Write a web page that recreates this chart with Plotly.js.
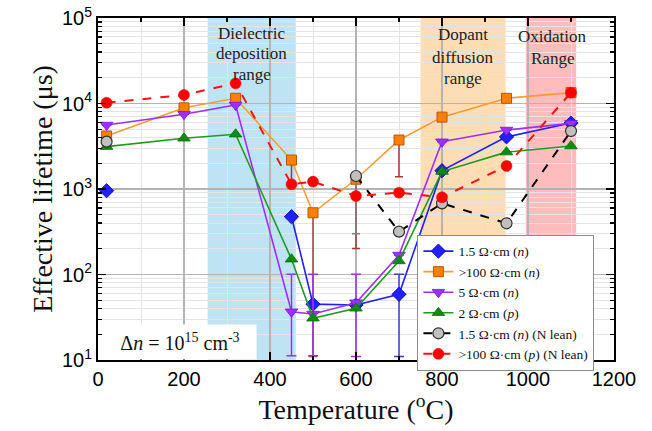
<!DOCTYPE html>
<html>
<head>
<meta charset="utf-8">
<script src="https://cdn.plot.ly/plotly-3.0.1.min.js"></script>
<style>html,body{margin:0;padding:0;background:#fff;}#chart{width:652px;height:431px;}</style>
</head>
<body>
<div id="chart"></div>
<script>
// Temperature (°C)
var temps = [20, 200, 320, 450, 500, 600, 700, 800, 950, 1100];

// Effective lifetime (µs)
var blue15n   = [955, null, null, 474, 45, 44, 58.6, 1640, 4070, 5900];
var orange100n = [4170, 8900, 11500, 2180, 527, 1300, 3740, 6930, 11500, 13400];
var purple5n  = [5600, 7500, 9600, 36.7, 34.5, 46.8, 169, 3570, 4900, 5860];
var green2p   = [3130, 3920, 4370, 151, 30.8, 40.3, 144, 1600, 2700, 3180];
var grey15nN  = [3580, null, null, null, null, 1420, 317, 680, 397, 4760];
var red100pN  = [10200, 12600, 17200, 1135, 1220, 828, 906, 800, 1860, 13400];

// Error bar bounds (lower / upper), null = none
var orangeLow  = [null, null, null, 1110, 11, 202, 1393, null, null, null];
var purpleLow  = [null, null, null, 11.2, 11.2, 11, null, null, null, null];
var purpleHigh = [null, null, null, 101, 101, 101, null, null, null, null];
var blueLow    = [null, null, null, null, null, null, 11, null, null, null];
var blueHigh   = [null, null, null, null, null, null, 101, null, null, null];
var greyLow    = [null, null, null, null, null, 300, null, null, null, null];

// Y tick labels
var yTickVals = [10, 100, 1000, 10000, 100000];
var yTickText = ['10<sup>1</sup>', '10<sup>2</sup>', '10<sup>3</sup>', '10<sup>4</sup>', '10<sup>5</sup>'];

var seriesNames = [
  '1.5 Ω·cm (<i>n</i>)',
  '>100 Ω·cm (<i>n</i>)',
  '5 Ω·cm (<i>n</i>)',
  '2 Ω·cm (<i>p</i>)',
  '1.5 Ω·cm (<i>n</i>) (N lean)',
  '>100 Ω·cm (<i>p</i>) (N lean)'
];

function minusArr(vals, low) {
  return vals.map(function (v, i) { return (low[i] == null || v == null) ? 0 : v - low[i]; });
}
function plusArr(vals, high) {
  return vals.map(function (v, i) { return (high[i] == null || v == null) ? 0 : high[i] - v; });
}
var zeros = temps.map(function () { return 0; });

var traces = [
  {
    x: temps, y: blue15n, name: seriesNames[0], mode: 'lines+markers',
    line: {color: '#1f1fff', width: 1.6},
    marker: {symbol: 'diamond', size: 11, color: '#1f1fff', line: {color: '#0000b0', width: 0.8}},
    error_y: {type: 'data', symmetric: false, array: plusArr(blue15n, blueHigh), arrayminus: minusArr(blue15n, blueLow), color: '#4040b0', thickness: 1.5, width: 5}
  },
  {
    x: temps, y: orange100n, name: seriesNames[1], mode: 'lines+markers',
    line: {color: '#ff9a2e', width: 1.6},
    marker: {symbol: 'square', size: 10, color: '#ff8000', line: {color: '#b05a10', width: 1}},
    error_y: {type: 'data', symmetric: false, array: zeros, arrayminus: minusArr(orange100n, orangeLow), color: '#a03a3a', thickness: 1.5, width: 4}
  },
  {
    x: temps, y: purple5n, name: seriesNames[2], mode: 'lines+markers',
    line: {color: '#9b30ff', width: 1.6},
    marker: {symbol: 'triangle-down', size: 11, color: '#9b30ff', line: {color: '#7a10e0', width: 0.8}},
    error_y: {type: 'data', symmetric: false, array: plusArr(purple5n, purpleHigh), arrayminus: minusArr(purple5n, purpleLow), color: '#9b30ff', thickness: 1.5, width: 5}
  },
  {
    x: temps, y: green2p, name: seriesNames[3], mode: 'lines+markers',
    line: {color: '#1e9a1e', width: 1.6},
    marker: {symbol: 'triangle-up', size: 11, color: '#108a10', line: {color: '#0a700a', width: 0.8}}
  },
  {
    x: temps, y: grey15nN, name: seriesNames[4], mode: 'lines+markers',
    line: {color: '#000000', width: 2, dash: 'dash'},
    marker: {symbol: 'circle', size: 11, color: '#c0c0c0', line: {color: '#303030', width: 1.2}},
    error_y: {type: 'data', symmetric: false, array: zeros, arrayminus: minusArr(grey15nN, greyLow), color: '#808080', thickness: 1.5, width: 4}
  },
  {
    x: temps, y: red100pN, name: seriesNames[5], mode: 'lines+markers',
    line: {color: '#ff1010', width: 2, dash: 'dash'},
    marker: {symbol: 'circle', size: 11, color: '#ff0000', line: {color: '#ff0000', width: 0.5}}
  }
];

var serif = 'Liberation Serif, Times New Roman, serif';
var sans = 'Liberation Sans, Arial, sans-serif';

function label(x, ypx, txt) {
  return {xref: 'x', yref: 'paper', x: x, y: (360 - ypx) / 342, yanchor: 'middle', showarrow: false,
          text: txt, font: {family: serif, size: 17, color: '#222'}};
}

var layout = {
  width: 652, height: 431,
  margin: {l: 98, r: 38, t: 18, b: 71},
  paper_bgcolor: '#ffffff', plot_bgcolor: '#ffffff',
  showlegend: true,
  legend: {
    x: 0.619, y: 0.366, xanchor: 'left', yanchor: 'top',
    bgcolor: '#ffffff', bordercolor: '#8c8c8c', borderwidth: 1,
    font: {family: serif, size: 13.5, color: '#111'},
    tracegroupgap: 0
  },
  xaxis: {
    range: [0, 1200], tick0: 0, dtick: 200,
    ticks: 'inside', ticklen: 8, tickwidth: 1.5, tickcolor: '#000',
    showline: true, linewidth: 2, linecolor: '#000', mirror: 'allticks',
    showgrid: true, gridcolor: '#b4b4b4', gridwidth: 1.2,
    zeroline: false,
    tickfont: {family: sans, size: 20, color: '#000'},
    minor: {dtick: 100, ticks: 'inside', ticklen: 4, tickwidth: 1.2, tickcolor: '#000', showgrid: true, gridcolor: '#e4e4e4', gridwidth: 1},
    title: {text: 'Temperature (<sup>o</sup>C)', font: {family: serif, size: 28, color: '#111'}, standoff: 6}
  },
  yaxis: {
    type: 'log', range: [1, 5], tickmode: 'array', tickvals: yTickVals, ticktext: yTickText,
    ticks: 'inside', ticklen: 8, tickwidth: 1.5, tickcolor: '#000',
    showline: true, linewidth: 2, linecolor: '#000', mirror: 'allticks',
    showgrid: true, gridcolor: '#b4b4b4', gridwidth: 1.2,
    zeroline: false,
    tickfont: {family: sans, size: 20, color: '#000'},
    minor: {dtick: 'D1', ticks: 'inside', ticklen: 4, tickwidth: 1.2, tickcolor: '#000', showgrid: true, gridcolor: '#e4e4e4', gridwidth: 1},
    title: {text: 'Effective lifetime (μs)', font: {family: serif, size: 28, color: '#111'}, standoff: 1}
  },
  shapes: [
    {type: 'rect', xref: 'x', yref: 'paper', x0: 255, x1: 460, y0: 0, y1: 1, fillcolor: 'rgba(150,212,238,0.62)', line: {width: 0}, layer: 'below'},
    {type: 'rect', xref: 'x', yref: 'paper', x0: 750, x1: 948, y0: 0, y1: 1, fillcolor: 'rgba(251,206,150,0.7)', line: {width: 0}, layer: 'below'},
    {type: 'rect', xref: 'x', yref: 'paper', x0: 995, x1: 1112, y0: 0, y1: 1, fillcolor: 'rgba(255,160,160,0.7)', line: {width: 0}, layer: 'below'}
  ],
  annotations: [
    label(358, 33, 'Dielectric'),
    label(358, 53, 'deposition'),
    label(358, 74, 'range'),
    label(849, 35, 'Dopant'),
    label(849, 57, 'diffusion'),
    label(849, 78, 'range'),
    label(1056, 36, 'Oxidation'),
    label(1056, 59, 'Range'),
    {xref: 'paper', yref: 'paper', x: 0.01, y: 0.0, xanchor: 'left', yanchor: 'bottom', showarrow: false,
     bgcolor: '#ffffff', borderpad: 5, width: 142, height: 24,
     text: 'Δ<i>n</i> = 10<sup>15</sup> cm<sup>-3</sup>', font: {family: serif, size: 20, color: '#111'}}
  ]
};

Plotly.newPlot('chart', traces, layout, {displayModeBar: false, staticPlot: true});
</script>
</body>
</html>
